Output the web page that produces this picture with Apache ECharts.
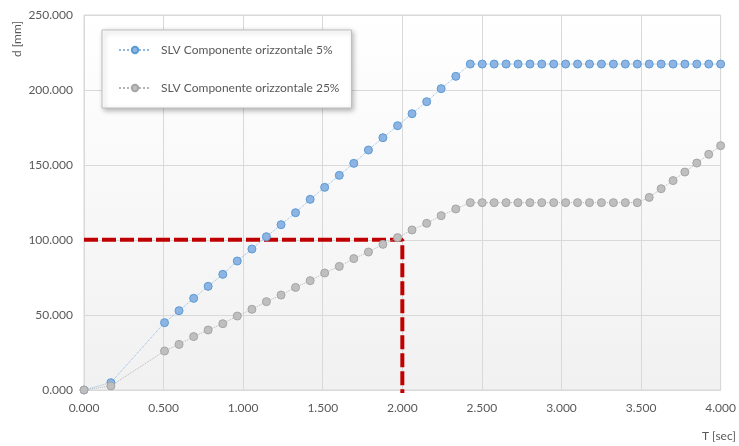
<!DOCTYPE html>
<html>
<head>
<meta charset="utf-8">
<script src="https://cdn.jsdelivr.net/npm/echarts@6/dist/echarts.min.js"></script>
<style>
  html, body { margin: 0; padding: 0; background: #fff; }
  #chart { width: 739px; height: 446px; }
</style>
</head>
<body>
<div id="chart"></div>
<script>
// periodi T [sec]
const periods = [
    0.000, 0.169,
    0.506, 0.597, 0.689, 0.780, 0.872, 0.963, 1.055, 1.146, 1.238, 1.329, 1.421,
    1.512, 1.604, 1.695, 1.787, 1.878, 1.970, 2.061, 2.153, 2.244, 2.336, 2.427,
    2.502, 2.577, 2.652, 2.727, 2.802, 2.876, 2.951, 3.026, 3.101, 3.176, 3.251,
    3.326, 3.401, 3.476, 3.551, 3.626, 3.701, 3.775, 3.850, 3.925, 4.000
];

// spostamenti d [mm]
const slv5 = [
    0.0, 4.9,
    44.9, 52.9, 61.1, 69.1, 77.1, 86.0, 94.0, 102.2, 110.2, 118.2, 127.1,
    135.1, 143.1, 151.1, 160.0, 168.2, 176.2, 184.2, 192.2, 200.9, 209.1, 217.3,
    217.3, 217.3, 217.3, 217.3, 217.3, 217.3, 217.3, 217.3, 217.3, 217.3, 217.3,
    217.3, 217.3, 217.3, 217.3, 217.3, 217.3, 217.3, 217.3, 217.3, 217.3
];

const slv25 = [
    0.0, 2.7,
    26.0, 30.4, 35.6, 40.0, 44.2, 49.3, 53.8, 58.9, 63.3, 68.4, 72.9,
    78.0, 82.4, 87.6, 92.0, 97.1, 101.6, 106.7, 111.1, 116.2, 120.7, 124.9,
    124.9, 124.9, 124.9, 124.9, 124.9, 124.9, 124.9, 124.9, 124.9, 124.9, 124.9,
    124.9, 124.9, 124.9, 128.4, 134.2, 139.6, 145.3, 151.3, 157.1, 162.9
];

// linea di riferimento (T = 2.0 s, d = 100 mm)
const refLine = [[0, 100.2], [2.0, 100.2], [2.0, -2]];

const seriesNames = ['SLV Componente orizzontale 5%', 'SLV Componente orizzontale 25%'];

const fontFamily = 'Lato, "Open Sans", sans-serif';
const textColor = '#595959';

const chart = echarts.init(document.getElementById('chart'), null, { renderer: 'canvas' });

const options = {
    animation: false,
    textStyle: { fontFamily: fontFamily },
    grid: {
        left: 84,
        right: 15,
        top: 15,
        bottom: 56,
        show: true,
        borderColor: '#d9d9d9',
        borderWidth: 1,
        backgroundColor: new echarts.graphic.LinearGradient(0, 0, 0, 1, [
            { offset: 0, color: '#ffffff' },
            { offset: 1, color: '#f1f1f1' }
        ])
    },
    legend: {
        orient: 'vertical',
        left: 102,
        top: 30,
        padding: [14, 12, 14, 16],
        itemGap: 26,
        itemWidth: 32,
        itemHeight: 8,
        backgroundColor: '#ffffff',
        borderColor: '#bfbfbf',
        borderWidth: 1,
        shadowColor: 'rgba(0,0,0,0.3)',
        shadowBlur: 5,
        shadowOffsetX: 2,
        shadowOffsetY: 2,
        textStyle: { color: textColor, fontSize: 12, fontFamily: fontFamily, padding: [0, 0, 0, 5] },
        data: seriesNames
    },
    xAxis: {
        type: 'value',
        min: 0,
        max: 4,
        interval: 0.5,
        axisLine: { show: true, lineStyle: { color: '#d9d9d9', width: 1 } },
        axisTick: { show: false },
        axisLabel: {
            color: textColor,
            fontSize: 12,
            margin: 12,
            formatter: (v) => v.toFixed(3)
        },
        splitLine: { show: true, lineStyle: { color: '#d9d9d9' } }
    },
    yAxis: {
        type: 'value',
        min: 0,
        max: 250,
        interval: 50,
        axisLine: { show: false },
        axisTick: { show: false },
        axisLabel: {
            color: textColor,
            fontSize: 12,
            margin: 11,
            formatter: (v) => v.toFixed(3)
        },
        splitLine: { show: true, lineStyle: { color: '#d9d9d9' } }
    },
    graphic: [
        {
            type: 'text',
            x: 17,
            y: 39,
            rotation: Math.PI / 2,
            style: {
                text: 'd [mm]',
                fill: textColor,
                font: '12px ' + fontFamily,
                align: 'center',
                verticalAlign: 'middle'
            }
        },
        {
            type: 'text',
            right: 3,
            top: 430,
            style: {
                text: 'T [sec]',
                fill: textColor,
                font: '12px ' + fontFamily
            }
        }
    ],
    series: [
        {
            name: 'riferimento',
            type: 'line',
            data: refLine,
            symbol: 'none',
            clip: false,
            z: 1,
            silent: true,
            lineStyle: { color: '#c00000', width: 4, type: [14, 4] }
        },
        {
            name: seriesNames[0],
            type: 'line',
            data: periods.map((t, i) => [t, slv5[i]]),
            symbol: 'circle',
            symbolSize: 8,
            z: 3,
            lineStyle: { color: '#8fb8e4', width: 1, type: 'dotted' },
            itemStyle: { color: '#8db4e2', borderColor: '#5b9bd5', borderWidth: 1 }
        },
        {
            name: seriesNames[1],
            type: 'line',
            data: periods.map((t, i) => [t, slv25[i]]),
            symbol: 'circle',
            symbolSize: 8,
            z: 3,
            lineStyle: { color: '#b5b5b5', width: 1, type: 'dotted' },
            itemStyle: { color: '#bfbfbf', borderColor: '#a5a5a5', borderWidth: 1 }
        }
    ]
};

chart.setOption(options);

window.addEventListener('resize', () => {
    chart.resize();
});
</script>
</body>
</html>
